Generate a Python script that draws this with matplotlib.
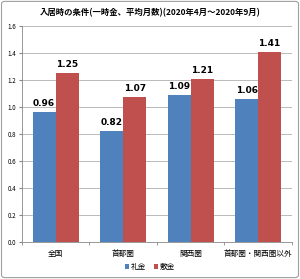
import numpy as np
import matplotlib.pyplot as plt
from matplotlib.patches import FancyBboxPatch

plt.rcParams['font.family'] = ['Noto Sans CJK JP', 'DejaVu Sans']

categories = ['全国', '首都圏', '関西圏', '首都圏・関西圏以外']
reikin = [0.96, 0.82, 1.09, 1.06]
shikikin = [1.25, 1.07, 1.21, 1.41]
series_names = ['礼金', '敷金']
title = '入居時の条件(一時金、平均月数)(2020年4月～2020年9月)'

fig = plt.figure(figsize=(3.0, 2.79), dpi=100)
fig.patches.append(FancyBboxPatch((0.005, 0.005), 0.99, 0.99, boxstyle='round,pad=0,rounding_size=0.01',
                                  transform=fig.transFigure, fill=False, edgecolor='#a0a0a0', linewidth=0.8))
ax = fig.add_axes([0.073, 0.133, 0.90, 0.774])

x = np.arange(len(categories))
w = 0.34
b1 = ax.bar(x - w / 2, reikin, w, color='#4F81BD', label=series_names[0], zorder=3)
b2 = ax.bar(x + w / 2, shikikin, w, color='#C0504D', label=series_names[1], zorder=3)

for bars in (b1, b2):
    for r in bars:
        ax.text(r.get_x() + r.get_width() / 2, r.get_height() + 0.03, f'{r.get_height():.2f}',
                ha='center', va='bottom', fontsize=6.5, fontweight='bold', family='DejaVu Sans')

ax.set_xlim(-0.5, 3.5)
ax.set_ylim(0, 1.6)
ax.set_yticks(np.arange(0, 1.61, 0.2))
ax.set_yticklabels([f'{v:.1f}' for v in np.arange(0, 1.61, 0.2)], fontsize=4.5)
ax.set_xticks(x)
ax.set_xticklabels(categories, fontsize=5.5)
ax.tick_params(axis='x', length=0, pad=6)
ax.tick_params(axis='y', length=2, color='#888888', pad=2)
ax.set_xticks(np.arange(-0.5, 3.6, 1), minor=True)
ax.tick_params(axis='x', which='minor', length=2, color='#888888')
ax.grid(axis='y', color='#b0b0b0', linewidth=0.6, zorder=0)
for s in ['top', 'right']:
    ax.spines[s].set_visible(False)
ax.spines['left'].set_color('#888888')
ax.spines['bottom'].set_color('#888888')
ax.spines['left'].set_linewidth(0.6)
ax.spines['bottom'].set_linewidth(0.6)

fig.text(0.5, 0.955, title, ha='center', va='center', fontsize=6.0, fontweight='bold')
fig.legend(loc='center', bbox_to_anchor=(0.5, 0.043), ncol=2, fontsize=5.5, frameon=False,
           handlelength=0.6, handleheight=0.6, handletextpad=0.2, columnspacing=1.0)

fig.savefig('out.png', dpi=100)
